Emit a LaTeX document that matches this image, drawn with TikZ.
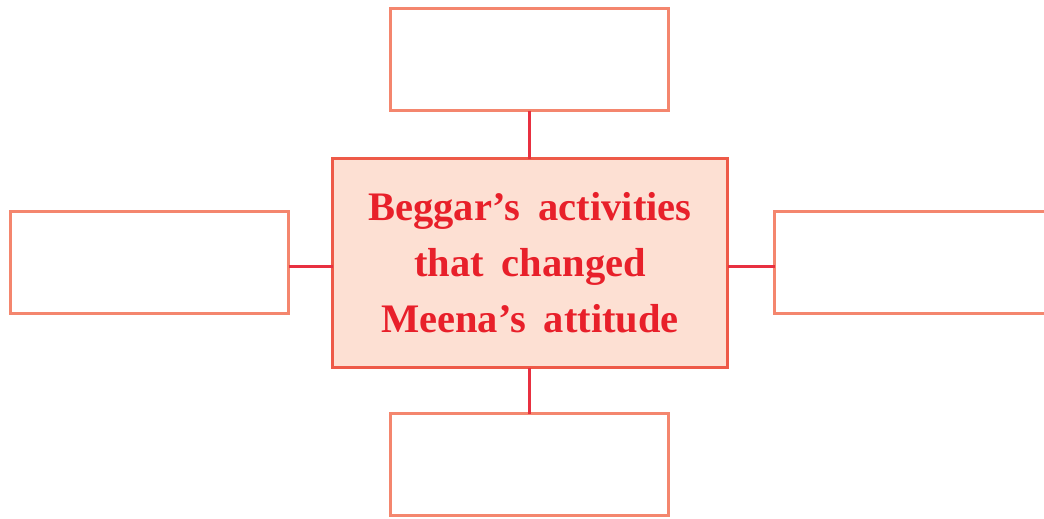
\documentclass[tikz,border=0pt]{standalone}
\usepackage{fontspec}
\setmainfont{Liberation Serif}[WordSpace=1.8]
\definecolor{boxline}{HTML}{F4866E}
\definecolor{cline}{HTML}{EE5A48}
\definecolor{cfill}{HTML}{FDE0D3}
\definecolor{tred}{HTML}{E8202A}
\definecolor{conn}{HTML}{E83040}
\tikzset{
  emptybox/.style={draw=boxline, line width=3pt, fill=white, rectangle, minimum width=278pt, minimum height=102pt, inner sep=0pt, outer sep=0pt},
  centerbox/.style={draw=cline, line width=3pt, fill=cfill, rectangle, minimum width=395pt, minimum height=209pt, inner sep=0pt, outer sep=0pt, align=center, text=tred, font=\fontsize{40.5}{56}\selectfont\bfseries},
  link/.style={draw=conn, line width=3pt}
}
\begin{document}
\begin{tikzpicture}[x=1pt,y=-1pt]
\useasboundingbox (0,0) rectangle (1044,519);
\node[centerbox] (c) at (530,263) {Beggar’s activities\\that changed\\Meena’s attitude};
\node[emptybox] (t) at (529.5,59.5) {};
\node[emptybox] (b) at (529.5,464.5) {};
\node[emptybox] (l) at (149.5,262.5) {};
\node[emptybox] (r) at (913.5,262.5) {};
\draw[link] (t.south) -- (t.south |- c.north);
\draw[link] (b.north) -- (b.north |- c.south);
\draw[link] ([yshift=-3.5pt]l.east) -- ([yshift=-3.5pt]l.east -| c.west);
\draw[link] ([yshift=-3.5pt]r.west) -- ([yshift=-3.5pt]r.west -| c.east);
\end{tikzpicture}
\end{document}
